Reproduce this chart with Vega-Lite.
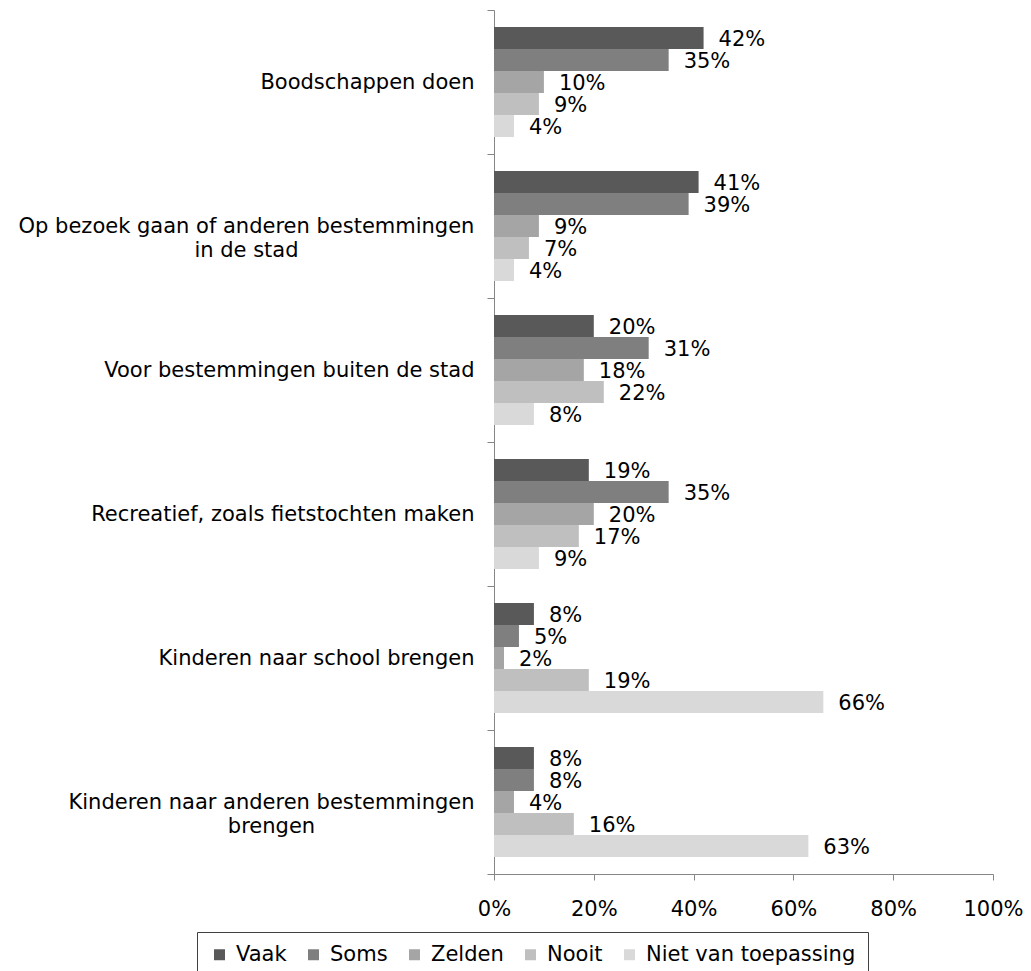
{
  "$schema": "https://vega.github.io/schema/vega-lite/v6.json",
  "autosize": "none",
  "width": 499,
  "height": 864,
  "padding": {"left": 494, "top": 10, "right": 38, "bottom": 97},
  "config": {
    "font": "DejaVu Sans",
    "view": {"stroke": null},
    "axis": {"labelFont": "DejaVu Sans", "labelColor": "#000000", "labelFontSize": 21, "domainColor": "#868686", "tickColor": "#868686", "grid": false, "title": null}
  },
  "resolve": {"axis": {"x": "independent", "y": "independent"}},
  "data": {
    "values": [
      {"cat": "Boodschappen doen", "freq": "Vaak", "value": 0.42},
      {"cat": "Boodschappen doen", "freq": "Soms", "value": 0.35},
      {"cat": "Boodschappen doen", "freq": "Zelden", "value": 0.10},
      {"cat": "Boodschappen doen", "freq": "Nooit", "value": 0.09},
      {"cat": "Boodschappen doen", "freq": "Niet van toepassing", "value": 0.04},
      {"cat": "Op bezoek gaan of anderen bestemmingen in de stad", "freq": "Vaak", "value": 0.41},
      {"cat": "Op bezoek gaan of anderen bestemmingen in de stad", "freq": "Soms", "value": 0.39},
      {"cat": "Op bezoek gaan of anderen bestemmingen in de stad", "freq": "Zelden", "value": 0.09},
      {"cat": "Op bezoek gaan of anderen bestemmingen in de stad", "freq": "Nooit", "value": 0.07},
      {"cat": "Op bezoek gaan of anderen bestemmingen in de stad", "freq": "Niet van toepassing", "value": 0.04},
      {"cat": "Voor bestemmingen buiten de stad", "freq": "Vaak", "value": 0.20},
      {"cat": "Voor bestemmingen buiten de stad", "freq": "Soms", "value": 0.31},
      {"cat": "Voor bestemmingen buiten de stad", "freq": "Zelden", "value": 0.18},
      {"cat": "Voor bestemmingen buiten de stad", "freq": "Nooit", "value": 0.22},
      {"cat": "Voor bestemmingen buiten de stad", "freq": "Niet van toepassing", "value": 0.08},
      {"cat": "Recreatief, zoals fietstochten maken", "freq": "Vaak", "value": 0.19},
      {"cat": "Recreatief, zoals fietstochten maken", "freq": "Soms", "value": 0.35},
      {"cat": "Recreatief, zoals fietstochten maken", "freq": "Zelden", "value": 0.20},
      {"cat": "Recreatief, zoals fietstochten maken", "freq": "Nooit", "value": 0.17},
      {"cat": "Recreatief, zoals fietstochten maken", "freq": "Niet van toepassing", "value": 0.09},
      {"cat": "Kinderen naar school brengen", "freq": "Vaak", "value": 0.08},
      {"cat": "Kinderen naar school brengen", "freq": "Soms", "value": 0.05},
      {"cat": "Kinderen naar school brengen", "freq": "Zelden", "value": 0.02},
      {"cat": "Kinderen naar school brengen", "freq": "Nooit", "value": 0.19},
      {"cat": "Kinderen naar school brengen", "freq": "Niet van toepassing", "value": 0.66},
      {"cat": "Kinderen naar anderen bestemmingen brengen", "freq": "Vaak", "value": 0.08},
      {"cat": "Kinderen naar anderen bestemmingen brengen", "freq": "Soms", "value": 0.08},
      {"cat": "Kinderen naar anderen bestemmingen brengen", "freq": "Zelden", "value": 0.04},
      {"cat": "Kinderen naar anderen bestemmingen brengen", "freq": "Nooit", "value": 0.16},
      {"cat": "Kinderen naar anderen bestemmingen brengen", "freq": "Niet van toepassing", "value": 0.63}
    ]
  },
  "layer": [
    {
      "mark": {"type": "bar"},
      "encoding": {
        "y": {
          "field": "cat",
          "type": "nominal",
          "sort": null,
          "scale": {"paddingInner": 0, "paddingOuter": 0},
          "axis": {
            "tickBand": "extent",
            "tickSize": 7,
            "labelPadding": {"condition": [{"test": "datum.value == 'Op bezoek gaan of anderen bestemmingen in de stad'", "value": 241}, {"test": "datum.value == 'Kinderen naar anderen bestemmingen brengen'", "value": 216}], "value": 13},
            "labelLineHeight": 24,
            "labelLimit": 600,
            "labelExpr": "datum.value == 'Op bezoek gaan of anderen bestemmingen in de stad' ? ['Op bezoek gaan of anderen bestemmingen', 'in de stad'] : datum.value == 'Kinderen naar anderen bestemmingen brengen' ? ['Kinderen naar anderen bestemmingen', 'brengen'] : datum.label",
            "labelAlign": {"condition": {"test": "datum.value == 'Op bezoek gaan of anderen bestemmingen in de stad' || datum.value == 'Kinderen naar anderen bestemmingen brengen'", "value": "center"}, "value": "right"}
          }
        },
        "yOffset": {
          "field": "freq",
          "type": "nominal",
          "sort": ["Vaak", "Soms", "Zelden", "Nooit", "Niet van toepassing"],
          "scale": {"paddingInner": 0, "paddingOuter": 0.77}
        },
        "x": {
          "field": "value",
          "type": "quantitative",
          "scale": {"domain": [0, 1], "nice": false},
          "axis": {"format": ".0%", "values": [0, 0.2, 0.4, 0.6, 0.8, 1], "tickSize": 6, "labelPadding": 18, "labelFlush": false}
        },
        "color": {
          "field": "freq",
          "type": "nominal",
          "sort": ["Vaak", "Soms", "Zelden", "Nooit", "Niet van toepassing"],
          "scale": {"domain": ["Vaak", "Soms", "Zelden", "Nooit", "Niet van toepassing"], "range": ["#595959", "#7f7f7f", "#a5a5a5", "#bfbfbf", "#d9d9d9"]},
          "legend": {
            "title": null,
            "orient": "none",
            "direction": "horizontal",
            "legendX": -297,
            "legendY": 922,
            "padding": 12,
            "strokeColor": "#404040",
            "symbolType": "square",
            "symbolSize": 121,
            "symbolStrokeWidth": 0,
            "labelFontSize": 21,
            "labelFont": "DejaVu Sans",
            "labelColor": "#000000",
            "labelOffset": 6,
            "columnPadding": 16,
            "labelLimit": 400
          }
        }
      }
    },
    {
      "mark": {"type": "text", "align": "left", "baseline": "middle", "dx": 15, "dy": 2, "fontSize": 21, "font": "DejaVu Sans", "color": "#000000"},
      "encoding": {
        "y": {"field": "cat", "type": "nominal", "sort": null, "axis": null},
        "yOffset": {"field": "freq", "type": "nominal", "sort": ["Vaak", "Soms", "Zelden", "Nooit", "Niet van toepassing"]},
        "x": {"field": "value", "type": "quantitative", "axis": null},
        "text": {"field": "value", "type": "quantitative", "format": ".0%"}
      }
    }
  ]
}
